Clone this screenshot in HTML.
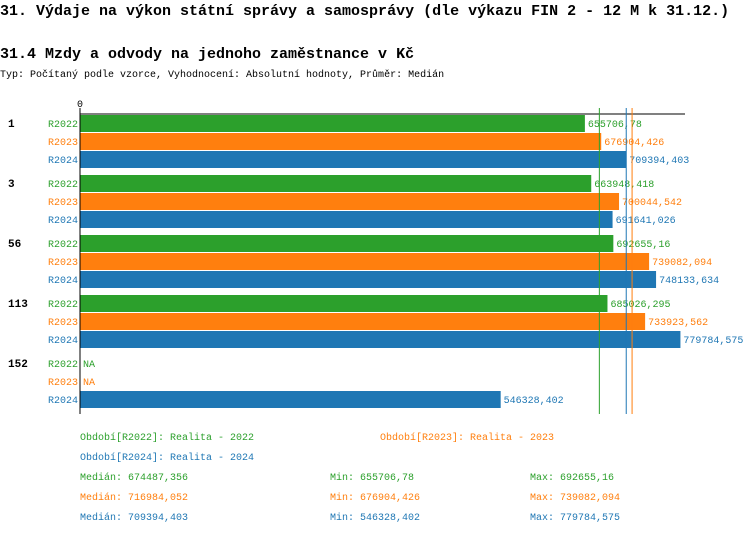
<!DOCTYPE html>
<html><head><meta charset="utf-8"><style>
body{margin:0;background:#fff;width:750px;height:534px;overflow:hidden;font-family:"Liberation Mono",monospace}
</style></head><body>
<svg width="750" height="534" style="font-family:'Liberation Mono',monospace">
<text x="0" y="15" font-size="15" font-weight="bold">31. Výdaje na výkon státní správy a samosprávy (dle výkazu FIN 2 - 12 M k 31.12.)</text>
<text x="0" y="58" font-size="15" font-weight="bold">31.4 Mzdy a odvody na jednoho zaměstnance v Kč</text>
<text x="0" y="77" font-size="10">Typ: Počítaný podle vzorce, Vyhodnocení: Absolutní hodnoty, Průměr: Medián</text>
<text x="77" y="107" font-size="10">0</text>
<g id="bars"></g>
<line x1="80" y1="114" x2="685" y2="114" stroke="#000"/>
<line x1="80" y1="108" x2="80" y2="414" stroke="#000"/>
<g id="meds"></g>
<g font-size="10">
<text x="80" y="440" fill="#2ca02c">Období[R2022]: Realita - 2022</text>
<text x="380" y="440" fill="#ff7f0e">Období[R2023]: Realita - 2023</text>
<text x="80" y="460" fill="#1f77b4">Období[R2024]: Realita - 2024</text>
<text x="80" y="480" fill="#2ca02c">Medián: 674487,356</text>
<text x="330" y="480" fill="#2ca02c">Min: 655706,78</text>
<text x="530" y="480" fill="#2ca02c">Max: 692655,16</text>
<text x="80" y="500" fill="#ff7f0e">Medián: 716984,052</text>
<text x="330" y="500" fill="#ff7f0e">Min: 676904,426</text>
<text x="530" y="500" fill="#ff7f0e">Max: 739082,094</text>
<text x="80" y="520" fill="#1f77b4">Medián: 709394,403</text>
<text x="330" y="520" fill="#1f77b4">Min: 546328,402</text>
<text x="530" y="520" fill="#1f77b4">Max: 779784,575</text>
</g>
</svg>
<script>
const categories=["1","3","56","113","152"];
const series=["R2022","R2023","R2024"];
const v2022=[655706.78,663948.418,692655.16,685026.295,null];
const v2023=[676904.426,700044.542,739082.094,733923.562,null];
const v2024=[709394.403,691641.026,748133.634,779784.575,546328.402];
const medians=[674487.356,716984.052,709394.403];
const labels2022=["655706,78","663948,418","692655,16","685026,295","NA"];
const labels2023=["676904,426","700044,542","739082,094","733923,562","NA"];
const labels2024=["709394,403","691641,026","748133,634","779784,575","546328,402"];
const colors=["#2ca02c","#ff7f0e","#1f77b4"];
const NS="http://www.w3.org/2000/svg";
const x=v=>80+v*0.000770;
const vals=[v2022,v2023,v2024],labs=[labels2022,labels2023,labels2024];
const g=document.getElementById("bars");
function mk(t,a){const e=document.createElementNS(NS,t);for(const k in a)e.setAttribute(k,a[k]);return e;}
categories.forEach((c,ci)=>{
  const gy=115+ci*60;
  const ct=mk("text",{x:8,y:gy+12,"font-size":11,"font-weight":"bold"});ct.textContent=c;
  
  
  g.appendChild(ct);
  series.forEach((s,si)=>{
    const y=gy+si*18,v=vals[si][ci];
    const st=mk("text",{x:78,y:y+12,"font-size":10,fill:colors[si],"text-anchor":"end"});st.textContent=s;
    
    
    g.appendChild(st);
    let end;
    if(v!=null){
      const r=mk("rect",{x:80,y:y,width:x(v)-80,height:17,fill:colors[si]});
      
      
      g.appendChild(r);end=x(v)+3;
    } else end=83;
    const vt=mk("text",{x:end,y:y+12,"font-size":10,fill:colors[si]});vt.textContent=labs[si][ci];
    
    
    g.appendChild(vt);
  });
});
const m=document.getElementById("meds");
medians.forEach((v,i)=>{
  const l=mk("line",{x1:x(v),x2:x(v),y1:108,y2:414,stroke:colors[i]});
  
  
  m.appendChild(l);
});
</script>
</body></html>
